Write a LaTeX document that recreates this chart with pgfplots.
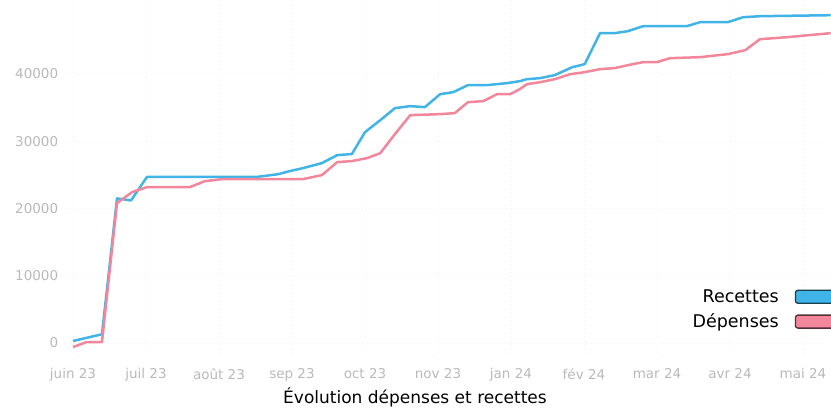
\documentclass[border=0pt]{standalone}
\usepackage{pgfplots}
\pgfplotsset{compat=1.18}
\usepackage{fontspec}
\setmainfont{DejaVu Sans}
\definecolor{rblue}{RGB}{64,180,230}
\definecolor{rpink}{RGB}{242,135,155}
\definecolor{ticklab}{RGB}{185,185,185}
\begin{document}
\begin{tikzpicture}
\useasboundingbox (0bp,0bp) rectangle (831bp,408bp);
\begin{axis}[
  at={(65.7bp,54.9bp)}, anchor=south west,
  scale only axis, width=765bp, height=353.1bp,
  xmin=-0.1, xmax=10.38, ymin=-1500, ymax=51000,
  axis line style={draw=none},
  major tick length=0pt,
  xtick={0,1,2,3,4,5,6,7,8,9,10},
  xticklabels={juin 23,juil 23,août 23,sep 23,oct 23,nov 23,jan 24,fév 24,mar 24,avr 24,mai 24},
  ytick={0,10000,20000,30000,40000},
  scaled y ticks=false,
  /pgf/number format/assume math mode=true,
  /pgf/number format/1000 sep={},
  tick label style={font=\fontsize{13.5bp}{16bp}\selectfont, text=ticklab},
  x tick label style={yshift=-12bp},
  y tick label style={xshift=-4bp},
  grid=major,
  grid style={gray!10, line width=0.6bp, dash pattern=on 1bp off 3bp},
  legend style={at={(1.007,0.1235)}, anchor=east, draw=none, fill=none,
    inner sep=0pt, outer sep=0pt, row sep=6bp, column sep=14bp,
    font=\fontsize{17.5bp}{21bp}\selectfont},
  legend cell align=right,
  legend plot pos=right,
]
\addplot[rblue, line width=2.5bp, line join=round,
  legend image code/.code={\draw[fill=rblue, draw=rblue!35!black, rounded corners=2.5bp, line width=1.3bp] (0bp,-6.5bp) rectangle (40bp,6.5bp);}]
coordinates {
(0,300) (0.397,1300) (0.603,21500) (0.795,21200) (1.014,24700) (2.52,24700)
(2.81,25100) (2.97,25560) (3.15,26000) (3.41,26750) (3.62,27940) (3.82,28090)
(4.00,31350) (4.21,33140) (4.41,34920) (4.62,35220) (4.82,35070) (5.03,37000)
(5.21,37300) (5.41,38340) (5.67,38340) (5.95,38640) (6.12,38930) (6.22,39230)
(6.40,39380) (6.60,39830) (6.84,41010) (7.01,41460) (7.22,46070) (7.42,46070)
(7.60,46360) (7.81,47110) (8.41,47110) (8.59,47700) (8.97,47700) (9.18,48440)
(9.41,48590) (10.38,48740)
};
\addlegendentry{Recettes}
\addplot[rpink, line width=2.5bp, line join=round,
  legend image code/.code={\draw[fill=rpink, draw=rpink!35!black, rounded corners=2.5bp, line width=1.3bp] (0bp,-6.5bp) rectangle (40bp,6.5bp);}]
coordinates {
(0,-600) (0.19,150) (0.397,150) (0.603,20800) (0.81,22440) (1.014,23180)
(1.60,23180) (1.81,24070) (2.05,24370) (3.15,24370) (3.41,24960) (3.62,26900)
(3.82,27050) (4.03,27490) (4.21,28230) (4.41,31060) (4.62,33880) (5.03,34030)
(5.23,34180) (5.41,35810) (5.62,35960) (5.81,37000) (5.99,37000) (6.12,37740)
(6.22,38490) (6.40,38780) (6.60,39230) (6.81,39970) (7.01,40270) (7.22,40720)
(7.42,40870) (7.60,41310) (7.81,41760) (8.0,41760) (8.18,42350) (8.59,42500)
(8.97,42950) (9.21,43540) (9.41,45170) (9.78,45470) (10.38,46070)
};
\addlegendentry{Dépenses}
\end{axis}
\node[font=\fontsize{17bp}{20bp}\selectfont] at (415bp,11bp) {Évolution dépenses et recettes};
\end{tikzpicture}
\end{document}
